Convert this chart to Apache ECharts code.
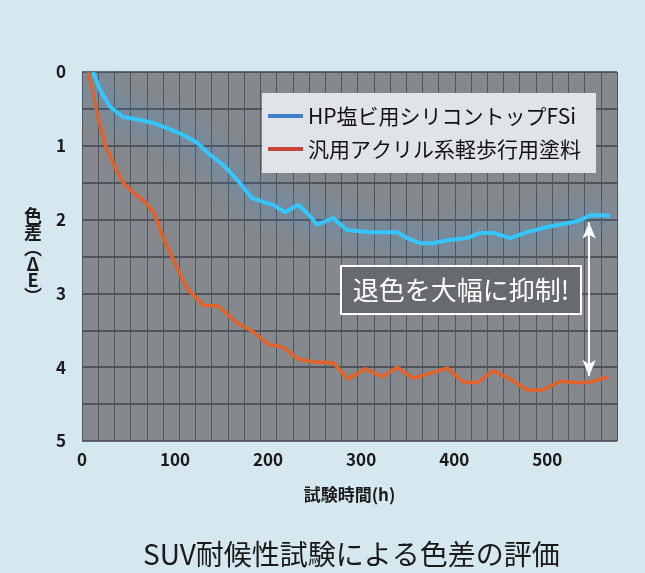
<!DOCTYPE html>
<html>
<head>
<meta charset="utf-8">
<script src="https://cdn.jsdelivr.net/npm/echarts@6/dist/echarts.min.js"></script>
<style>
  html, body { margin: 0; padding: 0; background: #d5e8ef; }
  #chart { width: 645px; height: 573px; }
</style>
</head>
<body>
<div id="chart"></div>
<script>
// series values: [hours, ΔE]
var hpSeries = [
  [11.8, 0], [19.4, 0.24], [30.1, 0.47], [44.1, 0.61], [62.4, 0.65], [76.3, 0.69],
  [91.4, 0.76], [108.6, 0.85], [123.7, 0.96], [137.6, 1.12], [151.6, 1.26], [166.7, 1.46],
  [182.8, 1.71], [194.6, 1.76], [205.4, 1.80], [218.3, 1.90], [232.3, 1.80], [241.9, 1.91],
  [252.7, 2.07], [269.9, 1.98], [284.9, 2.14], [309.7, 2.17], [338.7, 2.17], [349.5, 2.25],
  [363.4, 2.32], [377.4, 2.32], [392.5, 2.28], [414.0, 2.25], [428.0, 2.18], [441.9, 2.18],
  [460.2, 2.25], [478.5, 2.17], [500.0, 2.10], [521.5, 2.05], [535.5, 2.01], [546.2, 1.94],
  [557.0, 1.94], [567.7, 1.95]
]
var acrylSeries = [
  [6.5, 0], [11.8, 0.28], [17.2, 0.61], [25.8, 1.02], [33.3, 1.23], [44.1, 1.50],
  [54.8, 1.63], [67.7, 1.76], [77.4, 1.91], [87.1, 2.24], [100.0, 2.59], [112.9, 2.93],
  [130.1, 3.16], [146.2, 3.17], [157.0, 3.29], [166.7, 3.40], [183.9, 3.52], [200.0, 3.69],
  [216.1, 3.73], [232.3, 3.89], [248.4, 3.93], [269.9, 3.94], [286.0, 4.16], [304.3, 4.02],
  [322.6, 4.13], [338.7, 4.00], [355.9, 4.15], [374.2, 4.08], [392.5, 4.01], [409.7, 4.20],
  [424.7, 4.21], [441.9, 4.05], [460.2, 4.16], [478.5, 4.31], [494.6, 4.31], [514.0, 4.19],
  [532.3, 4.21], [546.2, 4.20], [565.6, 4.13]
]
var seriesNames = ['HP塩ビ用シリコントップFSi', '汎用アクリル系軽歩行用塗料']
var gapArrow = [[545, 2.04], [545, 4.12]]
var xMax = 575
var gridCells = 33

var font = 'Noto Sans CJK JP'
var chart = echarts.init(document.getElementById('chart'))

chart.setOption({
  backgroundColor: '#d5e8ef',
  textStyle: { fontFamily: font },
  title: {
    text: 'SUV耐候性試験による色差の評価',
    left: 138,
    top: 535,
    textStyle: { fontSize: 28, fontWeight: 'normal', color: '#1a1a1a', fontFamily: font }
  },
  grid: {
    left: 82,
    right: 28,
    top: 72,
    bottom: 132,
    show: true,
    backgroundColor: '#85898e',
    borderWidth: 0
  },
  legend: {
    orient: 'vertical',
    left: 262,
    top: 93,
    padding: [11, 15, 12, 6],
    backgroundColor: '#e0e4e9',
    icon: 'rect',
    itemWidth: 35,
    itemHeight: 4,
    itemGap: 9,
    textStyle: { fontSize: 21, color: '#111', fontFamily: font, lineHeight: 24 },
    data: [
      { name: seriesNames[0], itemStyle: { color: '#3f7ec8' } },
      { name: seriesNames[1], itemStyle: { color: '#c9453c' } }
    ]
  },
  xAxis: [{
    type: 'value',
    min: 0,
    max: xMax,
    interval: 100,
    name: '試験時間(h)',
    nameLocation: 'middle',
    nameGap: 54,
    nameTextStyle: { fontSize: 17, fontWeight: 'bold', color: '#1a1a1a', verticalAlign: 'middle' },
    axisLine: { show: false },
    axisTick: { show: false },
    splitLine: { show: false },
    axisLabel: { showMaxLabel: false, margin: 10, fontSize: 17, fontWeight: 'bold', color: '#1a1a1a' }
  }, {
    type: 'value',
    min: 0,
    max: gridCells,
    interval: 1,
    show: true,
    axisLine: { show: false },
    axisTick: { show: false },
    axisLabel: { show: false },
    splitLine: { show: true, lineStyle: { color: '#52565c', width: 1 } }
  }],
  yAxis: {
    type: 'value',
    inverse: true,
    min: 0,
    max: 5,
    interval: 0.5,
    name: '色\n差\n︵\nΔ\nE\n︶',
    nameLocation: 'middle',
    nameGap: 49,
    nameRotate: 0,
    nameTextStyle: { fontSize: 18, fontWeight: 'bold', color: '#1a1a1a', lineHeight: 16, align: 'center' },
    axisLine: { show: false },
    axisTick: { show: false },
    splitLine: { lineStyle: { color: '#3f4348', width: 1.5 } },
    axisLabel: {
      margin: 16,
      fontSize: 17,
      fontWeight: 'bold',
      color: '#1a1a1a',
      formatter: function (v) { return Number.isInteger(v) ? String(v) : '' }
    }
  },
  graphic: [{
    type: 'group',
    left: 340,
    top: 265,
    z: 100,
    children: [{
      type: 'rect',
      z: 100,
      shape: { x: 0, y: 0, width: 240, height: 48 },
      style: { fill: '#676b70', stroke: '#ffffff', lineWidth: 2 }
    }, {
      type: 'text',
      z: 101,
      x: 120,
      y: 24,
      style: {
        text: '退色を大幅に抑制!',
        fill: '#ffffff',
        fontSize: 26,
        fontFamily: font,
        align: 'center',
        verticalAlign: 'middle'
      }
    }]
  }],
  series: [{
    name: seriesNames[0],
    type: 'line',
    data: hpSeries,
    showSymbol: false,
    color: '#3f7ec8',
    lineStyle: { color: '#34c6ff', width: 4, shadowColor: 'rgba(30,150,255,1)', shadowBlur: 28 },
    z: 3
  }, {
    name: seriesNames[1],
    type: 'line',
    data: acrylSeries,
    showSymbol: false,
    color: '#c9453c',
    lineStyle: { color: '#e2622a', width: 3.5 },
    z: 2,
    markLine: {
      silent: true,
      symbol: ['arrow', 'arrow'],
      symbolSize: [10, 16],
      label: { show: false },
      lineStyle: { color: '#ffffff', width: 2, type: 'solid' },
      itemStyle: { color: '#ffffff' },
      data: [[{ coord: gapArrow[0] }, { coord: gapArrow[1] }]]
    }
  }]
})
</script>
</body>
</html>
